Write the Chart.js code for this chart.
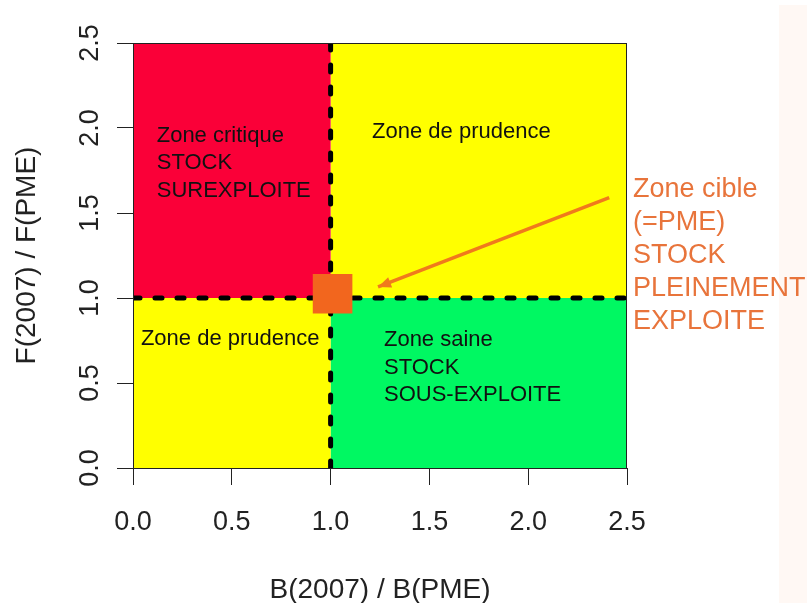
<!DOCTYPE html>
<html>
<head>
<meta charset="utf-8">
<script src="https://cdn.jsdelivr.net/npm/chart.js@4/dist/chart.umd.min.js"></script>
<style>
  html, body { margin: 0; padding: 0; background: #fff; }
  #wrap { position: relative; width: 807px; height: 603px; }
</style>
</head>
<body>
<div id="wrap"><canvas id="kobe"></canvas></div>
<script>
// Diagramme de Kobe : B(2007)/B(PME) en x, F(2007)/F(PME) en y
const tickValues = [0, 0.5, 1, 1.5, 2, 2.5];

const zoneNames = ['Zone critique', 'Zone de prudence (haut)', 'Zone de prudence (bas)', 'Zone saine'];
const zoneB = [[0, 1], [1, 2.5], [0, 1], [1, 2.5]];
const zoneF = [[1, 2.5], [1, 2.5], [0, 1], [0, 1]];
const zoneColors = ['#fa0038', '#ffff00', '#ffff00', '#00f862'];

const zoneLabelLines = [
  ['Zone critique', 'STOCK', 'SUREXPLOITE'],
  ['Zone de prudence'],
  ['Zone de prudence'],
  ['Zone saine', 'STOCK', 'SOUS-EXPLOITE']
];
const zoneLabelB = [0.12, 1.21, 0.04, 1.27];
const zoneLabelF = [1.918, 1.941, 0.722, 0.716];

// seuils (PME)
const refB = 1;
const refF = 1;

// zone cible
const targetB = [1.01];
const targetF = [1.025];
const arrowB = [2.41, 1.24];
const arrowF = [1.59, 1.065];
const cibleLines = ['Zone cible', '(=PME)', 'STOCK', 'PLEINEMENT', 'EXPLOITE'];
const cibleB = 2.53;
const cibleF = 1.594;

const FONT = '"Liberation Sans", Arial, Helvetica, sans-serif';

function rectPoints(bx, fy) {
  return [
    { x: bx[0], y: fy[0] }, { x: bx[1], y: fy[0] },
    { x: bx[1], y: fy[1] }, { x: bx[0], y: fy[1] },
    { x: bx[0], y: fy[0] }
  ];
}

const zoneDatasets = zoneNames.map((name, i) => ({
  label: name,
  data: rectPoints(zoneB[i], zoneF[i]),
  showLine: true,
  fill: 'shape',
  backgroundColor: zoneColors[i],
  borderWidth: 0,
  pointRadius: 0,
  tension: 0,
  order: 4
}));

const dashStyle = {
  showLine: true,
  fill: false,
  borderColor: '#000',
  borderWidth: 5,
  borderDash: [7, 15],
  borderCapStyle: 'round',
  pointRadius: 0,
  order: 3
};

const datasets = [
  ...zoneDatasets,
  { label: 'B = PME', data: [{ x: refB, y: 0 }, { x: refB, y: 2.5 }], ...dashStyle },
  { label: 'F = PME', data: [{ x: 0, y: refF }, { x: 2.5, y: refF }], ...dashStyle },
  {
    label: 'Zone cible',
    data: targetB.map((b, i) => ({ x: b, y: targetF[i] })),
    showLine: false,
    pointStyle: 'rect',
    pointRadius: 28,
    backgroundColor: '#f2661e',
    borderWidth: 0,
    order: 2
  },
  {
    label: 'fleche',
    data: arrowB.map((b, i) => ({ x: b, y: arrowF[i] })),
    showLine: true,
    fill: false,
    borderColor: '#f07a1c',
    borderWidth: 3.5,
    pointRadius: 0,
    order: 1
  }
];

const decorPlugin = {
  id: 'decor',
  beforeDraw(chart) {
    const ctx = chart.ctx;
    ctx.save();
    ctx.fillStyle = '#fff8f4';
    ctx.fillRect(779, 5, 28, 598);
    ctx.restore();
  },
  afterDatasetsDraw(chart) {
    const ctx = chart.ctx;
    const xs = chart.scales.x;
    const ys = chart.scales.y;
    const area = chart.chartArea;

    // pointe de la flèche
    const meta = chart.getDatasetMeta(datasets.length - 1);
    const p0 = meta.data[0], p1 = meta.data[1];
    const ang = Math.atan2(p1.y - p0.y, p1.x - p0.x);
    ctx.save();
    ctx.fillStyle = '#f07a1c';
    ctx.beginPath();
    ctx.moveTo(p1.x, p1.y);
    ctx.lineTo(p1.x - 13 * Math.cos(ang) + 5.5 * Math.sin(ang), p1.y - 13 * Math.sin(ang) - 5.5 * Math.cos(ang));
    ctx.lineTo(p1.x - 13 * Math.cos(ang) - 5.5 * Math.sin(ang), p1.y - 13 * Math.sin(ang) + 5.5 * Math.cos(ang));
    ctx.closePath();
    ctx.fill();

    // cadre
    ctx.strokeStyle = '#222';
    ctx.lineWidth = 1;
    ctx.strokeRect(area.left + 0.5, area.top + 0.5, area.width - 1, area.height);

    // textes des zones
    ctx.fillStyle = '#111';
    ctx.font = '22px ' + FONT;
    ctx.textAlign = 'left';
    ctx.textBaseline = 'alphabetic';
    zoneLabelLines.forEach((lines, i) => {
      const x = xs.getPixelForValue(zoneLabelB[i]);
      const y = ys.getPixelForValue(zoneLabelF[i]);
      lines.forEach((t, j) => ctx.fillText(t, x, y + j * 27.5));
    });

    // zone cible
    ctx.fillStyle = '#e8743b';
    ctx.font = '27px ' + FONT;
    const cx = xs.getPixelForValue(cibleB);
    const cy = ys.getPixelForValue(cibleF);
    cibleLines.forEach((t, j) => ctx.fillText(t, cx, cy + j * 33));
    ctx.restore();
  }
};

new Chart(document.getElementById('kobe'), {
  type: 'line',
  data: { datasets },
  options: {
    responsive: true,
    maintainAspectRatio: false,
    animation: false,
    events: [],
    layout: { padding: { top: 43, right: 180, left: 0, bottom: 0 } },
    plugins: {
      legend: { display: false },
      tooltip: { enabled: false }
    },
    scales: {
      x: {
        type: 'linear',
        min: 0,
        max: 2.5,
        afterBuildTicks: (s) => { s.ticks = tickValues.map(v => ({ value: v })); },
        afterFit: (s) => { s.height = 135; },
        grid: { drawOnChartArea: false, tickLength: 17, color: '#222' },
        border: { display: true, color: '#222' },
        ticks: {
          autoSkip: false,
          maxRotation: 0,
          padding: 21,
          color: '#222',
          font: { family: FONT, size: 27 },
          callback: (v) => Number(v).toFixed(1)
        },
        title: {
          display: true,
          text: 'B(2007) / B(PME)',
          color: '#222',
          font: { family: FONT, size: 28 },
          padding: { top: 0, bottom: -4 }
        }
      },
      y: {
        type: 'linear',
        min: 0,
        max: 2.5,
        afterBuildTicks: (s) => { s.ticks = tickValues.map(v => ({ value: v })); },
        afterFit: (s) => { s.width = 133; },
        grid: { drawOnChartArea: false, tickLength: 16, color: '#222' },
        border: { display: true, color: '#222' },
        ticks: {
          autoSkip: false,
          minRotation: 90,
          maxRotation: 90,
          crossAlign: 'center',
          padding: 8,
          color: '#222',
          font: { family: FONT, size: 27 },
          callback: (v) => Number(v).toFixed(1)
        },
        title: {
          display: true,
          text: 'F(2007) / F(PME)',
          color: '#222',
          font: { family: FONT, size: 28 },
          padding: { top: 10, bottom: 0 }
        }
      }
    }
  },
  plugins: [decorPlugin]
});
</script>
</body>
</html>
